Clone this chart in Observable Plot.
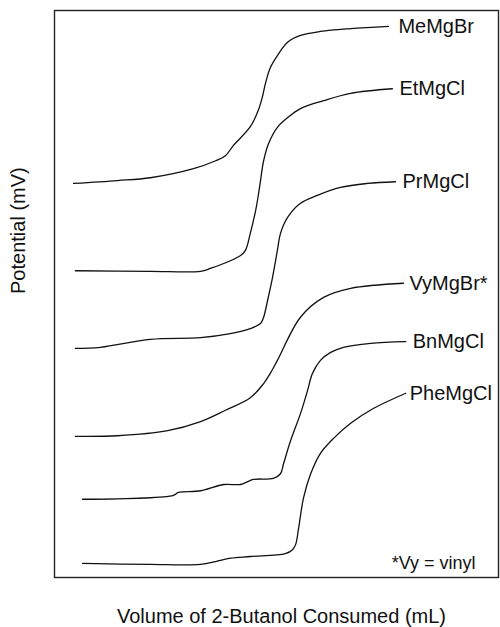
<!DOCTYPE html>
<html>
<head>
<meta charset="utf-8">
<script src="https://cdn.jsdelivr.net/npm/d3@7"></script>
<script src="https://cdn.jsdelivr.net/npm/@observablehq/plot@0.6"></script>
<style>
  html, body { margin: 0; padding: 0; background: #fff; }
  #chart svg { display: block; }
</style>
</head>
<body>
<div id="chart"></div>
<script>
// Series names (labels at the right end of each curve)
const seriesNames = ["MeMgBr", "EtMgCl", "PrMgCl", "VyMgBr*", "BnMgCl", "PheMgCl"];

// Volume of 2-butanol (arbitrary mL scale 0–10) and potential (arbitrary 0–100)
const meX = [0.43, 1.42, 2.16, 3.13, 3.63, 3.85, 4.03, 4.41, 4.59, 4.68, 4.75, 4.86, 5.05, 5.25, 5.54, 5.99, 6.67, 7.52];
const meY = [69.5, 70.0, 70.5, 72.1, 73.5, 74.4, 76.2, 79.5, 82.4, 84.7, 87.1, 89.9, 92.4, 94.4, 95.6, 96.3, 96.8, 97.2];

const etX = [0.47, 2.16, 3.29, 3.51, 4.19, 4.30, 4.41, 4.53, 4.59, 4.64, 4.71, 4.82, 5.02, 5.25, 5.54, 6.06, 6.67, 7.61];
const etY = [54.1, 54.0, 54.0, 54.5, 56.8, 57.7, 60.7, 64.7, 67.4, 70.0, 73.5, 76.5, 79.4, 81.1, 82.7, 84.1, 85.4, 86.2];

const prX = [0.47, 1.04, 2.16, 3.29, 3.96, 4.41, 4.64, 4.71, 4.80, 4.91, 5.02, 5.09, 5.25, 5.54, 5.92, 6.44, 7.05, 7.68];
const prY = [40.4, 40.6, 42.0, 42.3, 43.0, 43.9, 44.8, 45.9, 48.9, 52.9, 57.7, 60.7, 63.5, 66.0, 67.4, 68.8, 69.5, 69.8];

const vyX = [0.47, 1.42, 2.55, 3.29, 3.85, 4.41, 4.71, 4.86, 5.02, 5.54, 6.06, 6.67, 7.86];
const vyY = [24.9, 25.0, 25.9, 27.5, 29.5, 31.7, 34.2, 36.0, 38.3, 45.9, 49.4, 51.0, 51.9];

const bnX = [0.63, 2.68, 2.79, 3.29, 3.81, 4.19, 4.35, 4.48, 4.93, 5.09, 5.16, 5.32, 5.54, 5.70, 5.81, 5.99, 6.22, 6.51, 7.12, 7.91];
const bnY = [13.8, 14.5, 15.0, 15.3, 16.4, 16.4, 16.9, 17.3, 17.5, 18.3, 20.1, 24.2, 28.9, 33.0, 36.0, 38.3, 39.7, 40.6, 41.3, 41.6];

const pheX = [0.63, 2.16, 3.29, 3.63, 3.96, 4.41, 5.20, 5.36, 5.43, 5.50, 5.61, 5.77, 5.99, 6.28, 6.67, 7.18, 7.91];
const pheY = [2.5, 2.3, 2.3, 2.8, 3.4, 3.7, 4.2, 4.9, 5.8, 8.8, 14.1, 18.3, 21.9, 24.5, 27.2, 29.8, 32.5];

const xs = [meX, etX, prX, vyX, bnX, pheX];
const ys = [meY, etY, prY, vyY, bnY, pheY];
const labelGap = [10, 7, 7, 6, 7, 4];

const rows = [];
const ends = [];
seriesNames.forEach((name, i) => {
  xs[i].forEach((x, j) => rows.push({series: name, x, y: ys[i][j]}));
  const n = xs[i].length - 1;
  ends.push({series: name, x: xs[i][n], y: ys[i][n], gap: labelGap[i]});
});

const font = "Liberation Sans, Arial, Helvetica, sans-serif";

const chart = Plot.plot({
  width: 500,
  height: 627,
  marginLeft: 54,
  marginRight: 2,
  marginTop: 10,
  marginBottom: 50,
  x: {domain: [0, 10], axis: null},
  y: {domain: [0, 100], axis: null},
  style: {fontFamily: font, background: "#fff", color: "#111"},
  marks: [
    Plot.frame({stroke: "#222", strokeWidth: 1.4}),
    Plot.line(rows, {x: "x", y: "y", z: "series", stroke: "#111", strokeWidth: 1.3, curve: "catmull-rom"}),
    ...ends.map(e => Plot.text([e], {x: "x", y: "y", text: "series", textAnchor: "start", dx: e.gap, fontSize: 20, fill: "#111"})),
    Plot.text(["*Vy = vinyl"], {frameAnchor: "bottom-right", dx: -23, dy: -9, lineAnchor: "bottom", textAnchor: "end", fontSize: 18, fill: "#111"}),
    Plot.text(["Volume of 2-Butanol Consumed (mL)"], {frameAnchor: "bottom", dy: 45, dx: 5, lineAnchor: "bottom", fontSize: 20, fill: "#111"}),
    Plot.text(["Potential (mV)"], {frameAnchor: "left", dx: -36, rotate: -90, fontSize: 20, fill: "#111"})
  ]
});
document.getElementById("chart").appendChild(chart);
</script>
</body>
</html>
